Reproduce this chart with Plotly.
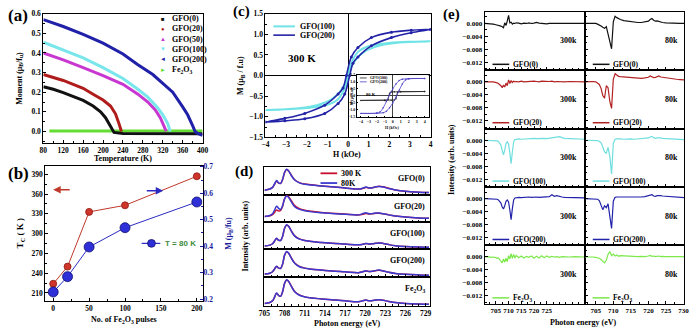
import plotly.graph_objects as go

SERIF = "Liberation Serif"
W, H = 700, 334

# ---------------- Panel (a): moment vs temperature ----------------
T_gfo0 = [80, 100, 120, 140, 160, 180, 195, 205, 212, 218, 222, 240, 300, 400]
M_gfo0 = [0.228, 0.215, 0.198, 0.18, 0.158, 0.13, 0.1, 0.07, 0.04, 0.01, -0.005, -0.01, -0.012, -0.012]
T_gfo20 = [80, 100, 120, 140, 160, 180, 200, 215, 225, 232, 237]
M_gfo20 = [0.29, 0.275, 0.26, 0.24, 0.22, 0.19, 0.16, 0.13, 0.09, 0.04, 0.0]
T_gfo50 = [80, 120, 160, 200, 240, 270, 290, 305, 315, 322, 327]
M_gfo50 = [0.40, 0.365, 0.325, 0.285, 0.24, 0.19, 0.15, 0.11, 0.07, 0.03, 0.0]
T_gfo100 = [80, 120, 160, 200, 240, 270, 290, 310, 320, 330, 335]
M_gfo100 = [0.455, 0.415, 0.375, 0.325, 0.27, 0.215, 0.175, 0.12, 0.085, 0.04, 0.0]
T_gfo200 = [80, 120, 160, 200, 240, 270, 300, 320, 340, 360, 370, 380, 385, 390, 400]
M_gfo200 = [0.57, 0.535, 0.495, 0.45, 0.395, 0.34, 0.29, 0.245, 0.2, 0.125, 0.085, 0.03, 0.0, -0.01, -0.02]
T_fe2o3 = [92, 150, 200, 250, 300, 350, 400]
M_fe2o3 = [0.002, 0.002, 0.002, 0.002, 0.002, 0.002, 0.002]
names_a = ["GFO(0)", "GFO(20)", "GFO(50)", "GFO(100)", "GFO(200)", "Fe<sub>2</sub>O<sub>3</sub>"]

# ---------------- Panel (b): Tc and M vs pulses ----------------
pulses = [0, 20, 50, 100, 200]
Tc = [224, 250, 333, 343, 387]
M80 = [0.227, 0.285, 0.397, 0.47, 0.567]

# ---------------- Panel (c): hysteresis at 300 K ----------------
H200 = [4, 3.06, 2.1, 1.13, 0.48, 0.16, -0.08, -0.24, -0.48, -1.13, -2.1, -3.06, -4,
        -3.06, -2.1, -1.13, -0.48, -0.16, 0.08, 0.24, 0.48, 1.13, 2.1, 3.06, 4]
M200 = [1.12, 1.1, 1.05, 0.92, 0.68, 0.45, 0.0, -0.3, -0.45, -0.72, -0.92, -1.04, -1.13,
        -1.1, -1.05, -0.92, -0.68, -0.45, 0.0, 0.3, 0.45, 0.72, 0.92, 1.04, 1.12]
H100 = [4, 3, 2, 1, 0.5, 0.2, 0, -0.15, -0.4, -0.8, -1.5, -2.5, -4,
        -3, -2, -1, -0.5, -0.2, 0, 0.15, 0.4, 0.8, 1.5, 2.5, 4]
M100 = [0.83, 0.82, 0.79, 0.71, 0.58, 0.35, 0.08, -0.2, -0.4, -0.58, -0.72, -0.8, -0.84,
        -0.82, -0.79, -0.71, -0.58, -0.35, -0.08, 0.2, 0.4, 0.58, 0.72, 0.8, 0.83]
# inset (80 K)
Hin_100 = [4, 1, 0.2, -0.2, -0.4, -0.6, -1, -4, -1, -0.2, 0.2, 0.4, 0.6, 1, 4]
Min_100 = [0.32, 0.32, 0.31, 0.29, 0.2, -0.28, -0.31, -0.32, -0.32, -0.31, -0.29, -0.2, 0.28, 0.31, 0.32]
Hin_200 = [4, 2, 1.2, 0.8, 0.4, 0, -0.4, -0.8, -1.2, -1.6, -2, -4,
           -2, -1.2, -0.8, -0.4, 0, 0.4, 0.8, 1.2, 1.6, 2, 4]
Min_200 = [1.25, 1.24, 1.2, 1.1, 0.85, 0.5, 0.1, -0.4, -0.85, -1.15, -1.23, -1.25,
           -1.24, -1.2, -1.1, -0.85, -0.5, -0.1, 0.4, 0.85, 1.15, 1.23, 1.25]

# ---------------- Panel (d): XAS spectra ----------------
E_d = [705, 705.8, 706.2, 706.5, 706.8, 707.1, 707.4, 707.7, 708.0, 708.3, 708.6, 709.0, 709.5, 710.2,
       711, 712, 713.5, 715, 717, 719, 719.6, 720.1, 720.6, 721.1, 721.6, 722.1, 722.7, 723.5,
       724.5, 726, 728, 729.5]
labels_d = ["GFO(0)", "GFO(20)", "GFO(100)", "GFO(200)", "Fe<sub>2</sub>O<sub>3</sub>"]
xas_80K = [
    [0.16, 0.2, 0.26, 0.38, 0.5, 0.42, 0.4, 0.55, 0.8, 0.9, 0.84, 0.68, 0.52, 0.42, 0.37, 0.34,
     0.31, 0.28, 0.24, 0.2, 0.23, 0.27, 0.24, 0.25, 0.28, 0.29, 0.27, 0.22, 0.17, 0.12, 0.09, 0.08],
    [0.2, 0.24, 0.3, 0.44, 0.58, 0.5, 0.46, 0.6, 0.85, 0.95, 0.9, 0.74, 0.56, 0.46, 0.41, 0.37,
     0.34, 0.31, 0.28, 0.26, 0.3, 0.34, 0.3, 0.31, 0.33, 0.33, 0.3, 0.26, 0.22, 0.18, 0.15, 0.14],
    [0.12, 0.15, 0.2, 0.3, 0.4, 0.33, 0.32, 0.48, 0.78, 0.9, 0.84, 0.66, 0.48, 0.37, 0.32, 0.28,
     0.25, 0.22, 0.19, 0.16, 0.18, 0.21, 0.19, 0.2, 0.22, 0.23, 0.21, 0.17, 0.13, 0.1, 0.08, 0.07],
    [0.12, 0.15, 0.2, 0.3, 0.4, 0.33, 0.32, 0.48, 0.8, 0.92, 0.86, 0.68, 0.5, 0.38, 0.33, 0.29,
     0.26, 0.23, 0.2, 0.17, 0.2, 0.24, 0.21, 0.22, 0.25, 0.26, 0.23, 0.18, 0.14, 0.11, 0.09, 0.08],
    [0.08, 0.11, 0.17, 0.3, 0.45, 0.36, 0.33, 0.5, 0.8, 0.92, 0.86, 0.68, 0.49, 0.37, 0.31, 0.27,
     0.24, 0.21, 0.17, 0.14, 0.17, 0.2, 0.17, 0.18, 0.2, 0.21, 0.19, 0.15, 0.11, 0.08, 0.06, 0.05],
]
xas_300K = [
    [0.16, 0.2, 0.26, 0.37, 0.48, 0.41, 0.4, 0.54, 0.78, 0.89, 0.84, 0.69, 0.53, 0.43, 0.38, 0.35,
     0.31, 0.28, 0.24, 0.2, 0.22, 0.26, 0.24, 0.25, 0.28, 0.3, 0.28, 0.23, 0.17, 0.12, 0.09, 0.08],
    [0.2, 0.23, 0.27, 0.35, 0.44, 0.4, 0.42, 0.58, 0.86, 0.96, 0.92, 0.78, 0.6, 0.49, 0.43, 0.39,
     0.35, 0.32, 0.29, 0.26, 0.28, 0.31, 0.29, 0.3, 0.32, 0.32, 0.3, 0.26, 0.22, 0.18, 0.15, 0.14],
    [0.12, 0.15, 0.2, 0.3, 0.39, 0.33, 0.32, 0.47, 0.77, 0.89, 0.84, 0.67, 0.49, 0.38, 0.32, 0.28,
     0.25, 0.22, 0.19, 0.16, 0.18, 0.21, 0.19, 0.2, 0.22, 0.23, 0.21, 0.17, 0.13, 0.1, 0.08, 0.07],
    [0.12, 0.15, 0.2, 0.3, 0.39, 0.33, 0.32, 0.47, 0.79, 0.91, 0.86, 0.69, 0.51, 0.39, 0.33, 0.29,
     0.26, 0.23, 0.2, 0.17, 0.2, 0.23, 0.21, 0.22, 0.24, 0.25, 0.23, 0.18, 0.14, 0.11, 0.09, 0.08],
    [0.08, 0.11, 0.17, 0.3, 0.44, 0.36, 0.33, 0.49, 0.79, 0.91, 0.86, 0.69, 0.5, 0.38, 0.31, 0.27,
     0.24, 0.21, 0.17, 0.14, 0.17, 0.2, 0.17, 0.18, 0.2, 0.21, 0.19, 0.15, 0.11, 0.08, 0.06, 0.05],
]

# ---------------- Panel (e): XMCD ----------------
E_left = [700.6, 702, 703, 704, 705, 705.5, 706, 706.5, 707, 707.5, 708, 708.5, 709, 709.5, 710,
          710.5, 711, 711.5, 712, 712.5, 713, 714, 715, 716, 717, 718, 719, 720, 721, 722, 723,
          724, 725, 726, 727, 728, 729, 730, 731, 732, 734, 736, 738, 740]
E_right = [702, 703, 704, 705, 705.5, 706, 706.5, 707, 707.5, 708, 708.5, 709, 709.5, 710, 710.5,
           711, 711.5, 712, 713, 714, 715, 716, 717, 718, 719, 720, 720.5, 721, 721.5, 722, 722.5,
           723, 723.5, 724, 725, 726, 727, 728, 729, 730.2]
ticks_e_left = [705, 710, 715, 720, 725]
ticks_e_right = [705, 710, 715, 720, 725, 730]
labels_e = ["GFO(0)", "GFO(20)", "GFO(100)", "GFO(200)", "Fe<sub>2</sub>O<sub>3</sub>"]
xmcd_300k = [
    [0.0, 0.0, 0.0, -0.0002, -0.0004, -0.0005, -0.0006, -0.0005, -0.0008, -0.0010,
     -0.0013, 0.0002, -0.0006, 0.0008, 0.0025, 0.0002, 0.0004, -0.0002, 0.0001, 0.0,
     0.0002, 0.0001, -0.0001, 0.0001, 0.0, 0.0002, 0.0, 0.0001, 0.0003, 0.0001,
     0.0, 0.0001, -0.0001, 0.0, 0.0001, 0.0, 0.0, 0.0001, 0.0, 0.0, 0.0, 0.0, 0.0, 0.0],
    [0.0, 0.0001, 0.0, 0.0, -0.0001, -0.0003, -0.0005, -0.0008, -0.0012, -0.0018,
     -0.0010, -0.0016, -0.0004, -0.0012, 0.0006, -0.0005, 0.0004, -0.0002, 0.0002, 0.0,
     0.0001, 0.0, 0.0002, 0.0, 0.0001, 0.0002, 0.0001, 0.0002, 0.0001, 0.0,
     0.0002, 0.0001, 0.0, 0.0001, 0.0002, 0.0, 0.0001, 0.0, 0.0001, 0.0, 0.0001, 0.0, 0.0, 0.0],
    [0.0, 0.0, 0.0, 0.0, -0.0001, -0.0002, -0.0004, -0.0008, -0.0015, -0.0032,
     -0.0045, -0.0030, -0.0010, -0.0005, -0.0012, -0.0040, -0.0072, -0.0035, -0.0005, 0.0002,
     0.0003, 0.0004, 0.0003, 0.0004, 0.0005, 0.0004, 0.0005, 0.0006, 0.0005, 0.0006,
     0.0007, 0.0006, 0.0005, 0.0006, 0.0007, 0.0008, 0.0009, 0.0011, 0.0008, 0.0006,
     0.0005, 0.0004, 0.0003, 0.0003],
    [0.0, 0.0, 0.0, 0.0, -0.0001, -0.0002, -0.0004, -0.0008, -0.0014, -0.0026,
     -0.0032, -0.0022, -0.0008, -0.0004, -0.0010, -0.0035, -0.0065, -0.0030, -0.0004, 0.0002,
     0.0003, 0.0004, 0.0003, 0.0004, 0.0004, 0.0005, 0.0004, 0.0005, 0.0005, 0.0004,
     0.0005, 0.0006, 0.0005, 0.0006, 0.0012, 0.0007, 0.0009, 0.0006, 0.0005, 0.0004,
     0.0003, 0.0002, 0.0002, 0.0002],
    [0.0, 0.0001, -0.0001, 0.0, -0.0002, -0.0004, -0.0003, -0.0008, -0.0012, -0.0018,
     -0.0006, -0.0016, -0.0004, -0.0014, 0.0004, -0.0006, 0.0010, -0.0004, 0.0008, -0.0003,
     0.0005, -0.0002, 0.0003, -0.0003, 0.0002, -0.0001, 0.0003, -0.0004, 0.0002, -0.0003,
     0.0004, -0.0002, 0.0003, -0.0001, 0.0002, 0.0, 0.0001, -0.0001, 0.0001, 0.0,
     0.0, 0.0001, 0.0, 0.0],
]
xmcd_80k = [
    [0.0, 0.0, 0.0001, 0.0, -0.0002, -0.0004, -0.0008, -0.0012, -0.0015, -0.0010,
     -0.0030, -0.0050, -0.0078, 0.0005, 0.0022, 0.0018, 0.0015, 0.0012, 0.0009, 0.0007,
     0.0005, 0.0004, 0.0003, 0.0003, 0.0004, 0.0007, 0.0012, 0.0015, 0.0010, 0.0007,
     0.0008, 0.0006, 0.0004, 0.0003, 0.0002, 0.0001, 0.0, 0.0, 0.0, 0.0],
    [0.0, 0.0001, 0.0001, 0.0, -0.0003, -0.0008, -0.0020, -0.0042, -0.0050, -0.0012,
     -0.0018, -0.0060, -0.0082, 0.0008, 0.0025, 0.0020, 0.0017, 0.0016, 0.0015, 0.0014,
     0.0013, 0.0012, 0.0011, 0.0011, 0.0012, 0.0014, 0.0018, 0.0015, 0.0013, 0.0014,
     0.0016, 0.0018, 0.0015, 0.0014, 0.0012, 0.0011, 0.0009, 0.0008, 0.0007, 0.0006],
    [0.0, 0.0, 0.0, 0.0, -0.0001, -0.0003, -0.0008, -0.0020, -0.0036, -0.0040,
     -0.0022, -0.0050, -0.0104, -0.0010, 0.0003, 0.0004, 0.0003, 0.0004, 0.0003, 0.0004,
     0.0004, 0.0003, 0.0004, 0.0004, 0.0005, 0.0007, 0.0010, 0.0012, 0.0008, 0.0006,
     0.0007, 0.0008, 0.0007, 0.0006, 0.0005, 0.0004, 0.0003, 0.0003, 0.0002, 0.0002],
    [0.0, 0.0, 0.0, 0.0, -0.0002, -0.0006, -0.0018, -0.0034, -0.0022, -0.0028,
     -0.0016, -0.0055, -0.0092, -0.0008, 0.0004, 0.0005, 0.0004, 0.0005, 0.0005, 0.0004,
     0.0005, 0.0005, 0.0004, 0.0005, 0.0006, 0.0008, 0.0011, 0.0012, 0.0008, 0.0007,
     0.0009, 0.0010, 0.0009, 0.0008, 0.0007, 0.0006, 0.0005, 0.0004, 0.0003, 0.0003],
    [0.0, 0.0001, 0.0, -0.0001, -0.0002, -0.0004, -0.0008, -0.0014, -0.0018, -0.0010,
     0.0008, 0.0017, 0.0004, 0.0009, 0.0003, 0.0006, 0.0002, 0.0004, 0.0003, 0.0002,
     0.0003, 0.0002, 0.0001, 0.0002, 0.0001, 0.0003, 0.0005, 0.0002, 0.0003, 0.0001,
     0.0002, 0.0003, 0.0001, 0.0002, 0.0001, 0.0002, 0.0001, 0.0001, 0.0002, 0.0001],
]
for a in xas_80K + xas_300K:
    assert len(a) == len(E_d)
for a in xmcd_300k:
    assert len(a) == len(E_left)
for a in xmcd_80k:
    assert len(a) == len(E_right)

# ---------------- colours ----------------
COL_A = ["#111111", "#b01c1c", "#c838d0", "#78e6ea", "#2020a8", "#66dd33"]
SYM_A = ["■", "●", "▲", "▼", "◄", "►"]
COL_E = ["#111111", "#b22222", "#70dede", "#2222aa", "#7ce84a"]
RED_D, BLUE_D = "#c8102e", "#3a3ad0"


def tf(size=7.5, color="black"):
    return dict(family=SERIF, size=size, color=color, weight="bold")


fig = go.Figure()
axes = {}
count = [0]


def new_axes(xd, yd, xa, ya):
    count[0] += 1
    s = "" if count[0] == 1 else str(count[0])
    base = dict(showline=True, linecolor="black", linewidth=1, mirror=True,
                ticks="inside", ticklen=3, tickwidth=1, tickcolor="black",
                showgrid=False, zeroline=False, tickfont=tf(7.5), tickangle=0)
    X = dict(base)
    X.update(domain=[xd[0] / W, xd[1] / W], anchor="y" + s)
    X.update(xa)
    Y = dict(base)
    Y.update(domain=[1 - yd[1] / H, 1 - yd[0] / H], anchor="x" + s)
    Y.update(ya)
    axes["xaxis" + s] = X
    axes["yaxis" + s] = Y
    return "x" + s, "y" + s


def minor(d, ln=2):
    return dict(ticks="inside", ticklen=ln, dtick=d, tickcolor="black")


annotations = []
shapes = []


def ann(x, y, text, size=8, color="black", xanchor="center", angle=0, family=SERIF):
    annotations.append(dict(x=x / W, y=1 - y / H, xref="paper", yref="paper", text=text,
                            showarrow=False, xanchor=xanchor, yanchor="middle", textangle=angle,
                            font=dict(family=family, size=size, color=color, weight="bold")))


def seg(x0, x1, y, color, width=1.5):
    shapes.append(dict(type="line", xref="paper", yref="paper", x0=x0 / W, x1=x1 / W,
                       y0=1 - y / H, y1=1 - y / H, line=dict(color=color, width=width)))


# ---------- (a)
xa, ya = new_axes((38, 200), (10, 143.3),
                  dict(range=[80, 400], dtick=40, tick0=80, minor=minor(20)),
                  dict(range=[-0.061, 0.6], dtick=0.1, tick0=0, tickformat=".1f", minor=minor(0.05)))
series_a = [(T_fe2o3, M_fe2o3, 5), (T_gfo0, M_gfo0, 0), (T_gfo20, M_gfo20, 1), (T_gfo50, M_gfo50, 2),
            (T_gfo100, M_gfo100, 3), (T_gfo200, M_gfo200, 4)]
for T, M, k in series_a:
    fig.add_trace(go.Scatter(x=T, y=M, mode="lines", line=dict(color=COL_A[k], width=3),
                             xaxis=xa, yaxis=ya, showlegend=False))
for k, nm in enumerate(names_a):
    yy = 15 + 10.5 * k
    ann(160, yy, SYM_A[k], size=6, color=COL_A[k])
    ann(167, yy, nm, size=8, xanchor="left")
ann(12, 12, "(a)", size=17)
ann(14, 76, "Moment (μ<sub>B</sub>/f<sub>u</sub>)", size=8, angle=-90)
ann(119, 159, "Temperature (K)", size=8)

# ---------- (b)
xb, yb = new_axes((40, 200), (166, 305),
                  dict(range=[-11, 208], dtick=50, tick0=0, minor=minor(25)),
                  dict(range=[198.2, 403.3], dtick=30, tick0=210, minor=minor(15)))
axes["yaxis30"] = dict(overlaying=yb, side="right", anchor=xb, range=[0.1938, 0.7048], dtick=0.1,
                       tick0=0.2, tickformat=".1f", showline=False, showgrid=False, zeroline=False,
                       ticks="inside", ticklen=3, tickcolor="#1a1a9a",
                       tickfont=tf(7.5, "#1a1a9a"), minor=dict(ticks="inside", ticklen=2, dtick=0.05,
                                                                  tickcolor="#1a1a9a"))
fig.add_trace(go.Scatter(x=pulses, y=Tc, mode="lines+markers", xaxis=xb, yaxis=yb,
                         line=dict(color="#c0392b", width=1),
                         marker=dict(size=7, color="#d0352b", line=dict(color="#8a1a12", width=0.8)),
                         showlegend=False))
fig.add_trace(go.Scatter(x=pulses, y=M80, mode="lines+markers", xaxis=xb, yaxis="y30",
                         line=dict(color="#2b2bc0", width=1),
                         marker=dict(size=10, color="#2f2fd8", line=dict(color="#101070", width=0.8)),
                         showlegend=False))
annotations.append(dict(x=48 / W, y=1 - 191 / H, xref="paper", yref="paper", text="", showarrow=True,
                        ax=18, ay=0, arrowhead=2, arrowsize=1, arrowwidth=1.5, arrowcolor="#c0392b"))
annotations.append(dict(x=160 / W, y=1 - 192 / H, xref="paper", yref="paper", text="", showarrow=True,
                        ax=-18, ay=0, arrowhead=2, arrowsize=1, arrowwidth=1.5, arrowcolor="#2b2bc0"))
seg(138, 157, 246, "#2b2bc0", 1.2)
shapes.append(dict(type="circle", xref="paper", yref="paper", x0=144 / W, x1=152 / W,
                   y0=1 - 250 / H, y1=1 - 242 / H, fillcolor="#2f2fd8", line=dict(color="#101070", width=0.8)))
ann(160, 246, "T = 80 K", size=8, color="#3d8b3d", xanchor="left", family="Liberation Sans")
ann(13, 174, "(b)", size=17)
ann(15, 236, "T<sub>C</sub> ( K )", size=9, angle=-90)
ann(227, 236, "M (μ<sub>B</sub>/fu)", size=8, color="#1a1a9a", angle=-90)
ann(120, 325, "No. of Fe<sub>2</sub>O<sub>3</sub> pulses", size=8)

# ---------- (c)
xc, yc = new_axes((264, 432), (10, 137),
                  dict(range=[-4, 4], dtick=1, tick0=-4, minor=minor(0.5), zeroline=True,
                       zerolinecolor="black", zerolinewidth=1),
                  dict(range=[-1.5, 1.5], dtick=0.5, tick0=-1.5, tickformat=".1f", minor=minor(0.25),
                       zeroline=True, zerolinecolor="black", zerolinewidth=1))
fig.add_trace(go.Scatter(x=H100, y=M100, mode="lines", xaxis=xc, yaxis=yc, line_shape="spline",
                         line=dict(color="#6fe3e6", width=2), showlegend=False))
fig.add_trace(go.Scatter(x=H200, y=M200, mode="lines+markers", xaxis=xc, yaxis=yc, line_shape="spline",
                         line=dict(color="#2323a8", width=1.6), marker=dict(size=3, color="#2323a8"),
                         showlegend=False))
seg(272, 294, 23, "#6fe3e6", 2)
seg(272, 294, 32, "#2323a8", 1.6)
ann(297, 23, "GFO(100)", size=8, xanchor="left")
ann(297, 32, "GFO(200)", size=8, xanchor="left")
ann(301, 55, "300 K", size=11)
ann(240, 8, "(c)", size=15)
ann(239, 73, "M (μ<sub>B</sub> / f.u)", size=8, angle=-90)
ann(347, 155, "H (kOe)", size=8)

# inset
xi, yi = new_axes((357, 430), (73, 116),
                  dict(range=[-4.5, 4.5], dtick=1, tickfont=tf(4), ticklen=1.5, linewidth=0.7,
                       zeroline=True, zerolinecolor="#444", zerolinewidth=0.6),
                  dict(range=[-1.5, 1.5], dtick=0.5, tickformat=".1f", tickfont=tf(4), ticklen=1.5,
                       linewidth=0.7, zeroline=True, zerolinecolor="#444", zerolinewidth=0.6))
fig.add_trace(go.Scatter(x=Hin_100, y=Min_100, mode="lines+markers", xaxis=xi, yaxis=yi,
                         line=dict(color="#222222", width=0.8), marker=dict(size=1.5, color="#222"),
                         showlegend=False))
fig.add_trace(go.Scatter(x=Hin_200, y=Min_200, mode="lines+markers", xaxis=xi, yaxis=yi, line_shape="spline",
                         line=dict(color="#4a3fc8", width=0.8), marker=dict(size=1.5, color="#4a3fc8"),
                         showlegend=False))
seg(360, 367, 76, "#222222", 0.8)
seg(360, 367, 80, "#4a3fc8", 0.8)
ann(368, 76, "GFO(100)", size=4, xanchor="left")
ann(368, 80, "GFO(200)", size=4, xanchor="left")
ann(371, 93, "80 K", size=4.5)
ann(352, 95, "M (μ<sub>B</sub>/f.u)", size=4, angle=-90)
ann(393, 127, "H (kOe)", size=4)

# ---------- (d)
rows_d = [(167, 196), (196, 224), (224, 252), (252, 281), (281, 310)]
for i, (t, b) in enumerate(rows_d):
    xd, yd = new_axes((263, 431), (t, b),
                      dict(range=[705, 729.6], dtick=3, tick0=705, showticklabels=(i == 4),
                           minor=minor(1)),
                      dict(range=[0, 1], showticklabels=False, ticks=""))
    fig.add_trace(go.Scatter(x=E_d, y=xas_300K[i], mode="lines", xaxis=xd, yaxis=yd, line_shape="spline",
                             line=dict(color=RED_D, width=1.5), showlegend=False))
    fig.add_trace(go.Scatter(x=E_d, y=xas_80K[i], mode="lines", xaxis=xd, yaxis=yd, line_shape="spline",
                             line=dict(color=BLUE_D, width=1.5), showlegend=False))
    ann(428, t + 12, labels_d[i], size=8, xanchor="right")
seg(320, 337, 174, RED_D, 1.8)
seg(320, 337, 184, BLUE_D, 1.8)
ann(339, 174, "300 K", size=8, xanchor="left")
ann(339, 184, "80K", size=8, xanchor="left")
ann(242, 172, "(d)", size=15)
ann(244, 238, "Intensity (arb. units)", size=8, angle=-90)
ann(347, 328, "Photon energy (eV)", size=8)

# ---------- (e)
yr_e = [-0.0144, 0.0036]
for i in range(5):
    t, b = 8 + 60 * i, 68 + 60 * i
    xl, yl = new_axes((487, 589), (t, b),
                      dict(range=[700.6, 740], tickvals=ticks_e_left, showticklabels=(i == 4),
                           tickfont=tf(7), minor=minor(2.5)),
                      dict(range=yr_e, tickvals=[0, -0.004, -0.008, -0.012], tickformat=".3f",
                           tickfont=tf(7), minor=minor(0.002)))
    xr, yrr = new_axes((589, 690), (t, b),
                       dict(range=[701.9, 730.2], tickvals=ticks_e_right, showticklabels=(i == 4),
                            tickfont=tf(7), minor=minor(2.5)),
                       dict(range=yr_e, tickvals=[0, -0.004, -0.008, -0.012], showticklabels=False,
                            minor=minor(0.002)))
    fig.add_trace(go.Scatter(x=E_left, y=xmcd_300k[i], mode="lines", xaxis=xl, yaxis=yl,
                             line=dict(color=COL_E[i], width=1.2), showlegend=False))
    fig.add_trace(go.Scatter(x=E_right, y=xmcd_80k[i], mode="lines", xaxis=xr, yaxis=yrr,
                             line=dict(color=COL_E[i], width=1.2), showlegend=False))
    ann(572, t + 30, "300k", size=8)
    ann(677, t + 30, "80k", size=8)
    seg(495, 512, t + 54, COL_E[i], 1.5)
    seg(597, 614, t + 54, COL_E[i], 1.5)
    ann(514, t + 54, labels_e[i], size=7.5, xanchor="left")
    ann(616, t + 54, labels_e[i], size=7.5, xanchor="left")
ann(453, 11, "(e)", size=15)
ann(453, 160, "Intensity (arb. units)", size=8, angle=-90)
ann(588, 327, "Photon energy (eV)", size=8)

fig.update_layout(**axes)
fig.update_layout(width=W, height=H, margin=dict(l=0, r=0, t=0, b=0),
                  paper_bgcolor="white", plot_bgcolor="white", showlegend=False,
                  font=dict(family=SERIF, size=8, color="black", weight="bold"),
                  annotations=annotations, shapes=shapes)
fig.write_html("out.html")
